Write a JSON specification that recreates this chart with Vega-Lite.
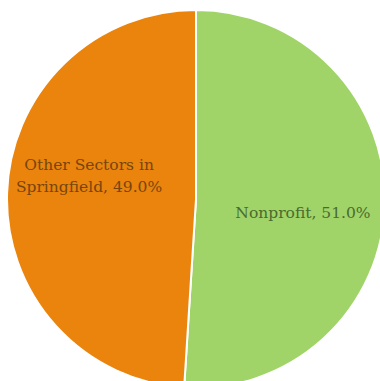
{
  "$schema": "https://vega.github.io/schema/vega-lite/v6.json",
  "width": 380,
  "height": 381,
  "padding": 0,
  "autosize": {"type": "none"},
  "background": "white",
  "config": {"view": {"stroke": null}},
  "data": {
    "values": [
      {"category": "Nonprofit", "share": 51.0, "label": "Nonprofit, 51.0%"},
      {"category": "Other Sectors in Springfield", "share": 49.0, "label": "Other Sectors in\nSpringfield, 49.0%"}
    ]
  },
  "encoding": {
    "theta": {"field": "share", "type": "quantitative", "stack": true},
    "color": {
      "field": "category",
      "type": "nominal",
      "scale": {"domain": ["Nonprofit", "Other Sectors in Springfield"], "range": ["#a0d468", "#ea840c"]},
      "legend": null
    }
  },
  "layer": [
    {
      "mark": {"type": "arc", "x": 196, "y": 199, "outerRadius": 189, "stroke": "white", "strokeWidth": 2}
    },
    {
      "mark": {"type": "text", "x": 196, "y": 199, "radius": 105, "dx": 2, "dy": 11, "font": "DejaVu Serif", "fontSize": 15.5, "align": "center", "baseline": "middle"},
      "encoding": {
        "text": {"condition": {"test": "datum.category == 'Nonprofit'", "field": "label"}, "value": ""},
        "color": {"value": "#4a6b2e"}
      }
    },
    {
      "mark": {"type": "text", "x": 196, "y": 199, "radius": 105, "dx": -2, "dy": -31, "font": "DejaVu Serif", "fontSize": 15.5, "lineBreak": "\n", "lineHeight": 22, "align": "center", "baseline": "middle"},
      "encoding": {
        "text": {"condition": {"test": "datum.category != 'Nonprofit'", "field": "label"}, "value": ""},
        "color": {"value": "#77460f"}
      }
    }
  ]
}
